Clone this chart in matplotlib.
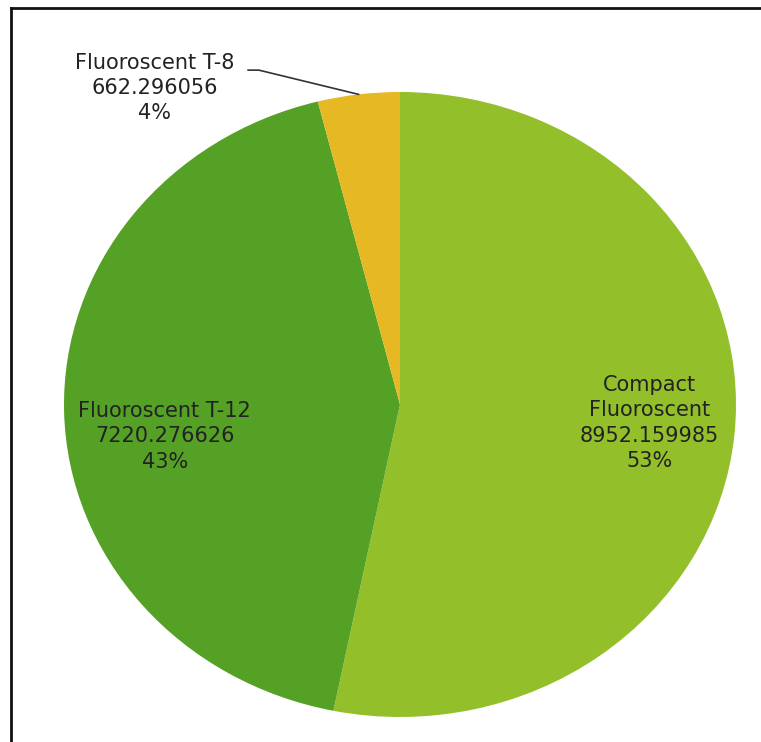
import matplotlib.pyplot as plt
import numpy as np
from matplotlib.lines import Line2D

names = ["Compact\nFluoroscent", "Fluoroscent T-12", "Fluoroscent T-8"]
values = [8952.159985, 7220.276626, 662.296056]
value_text = ["8952.159985", "7220.276626", "662.296056"]
colors = ["#93c02a", "#55a125", "#e6b823"]

W, H = 761, 742
fig = plt.figure(figsize=(W / 100, H / 100), dpi=100)

# pie is slightly wider than tall in the source, so axes aspect stays 'auto'
ax = fig.add_axes([64 / W, (H - 717) / H, 672 / W, 625 / H])
wedges, _ = ax.pie(values, colors=colors, startangle=90, counterclock=False,
                   wedgeprops=dict(linewidth=0))
ax.set_aspect("auto")
ax.set_xlim(-1, 1)
ax.set_ylim(-1, 1)
ax.axis("off")

label_r = [0.745, 0.70]
label_dy = [0.015, -0.085]
font = dict(fontsize=15, color="#222222", linespacing=1.33, ha="center", va="center")

total = sum(values)
for i, w in enumerate(wedges):
    mid = np.deg2rad((w.theta1 + w.theta2) / 2)
    pct = round(values[i] / total * 100)
    label = f"{names[i]}\n{value_text[i]}\n{pct}%"
    if i < 2:
        r = label_r[i]
        ax.text(r * np.cos(mid), r * np.sin(mid) + label_dy[i], label, **font)
    else:
        # small slice gets an outside label with a leader line
        ex, ey = np.cos(mid), np.sin(mid)
        ax.plot([ex, -0.42, -0.452], [ey, 1.07, 1.07], color="#333333", lw=1.2,
                clip_on=False)
        ax.text(-0.73, 1.013, label, **font)

# frame around the chart (only top and left visible in the crop)
fig.add_artist(Line2D([11 / W, 1], [1 - 8 / H, 1 - 8 / H], color="#111111", lw=2))
fig.add_artist(Line2D([11 / W, 11 / W], [0, 1 - 8 / H], color="#111111", lw=2))

fig.savefig("out.png", dpi=100)
